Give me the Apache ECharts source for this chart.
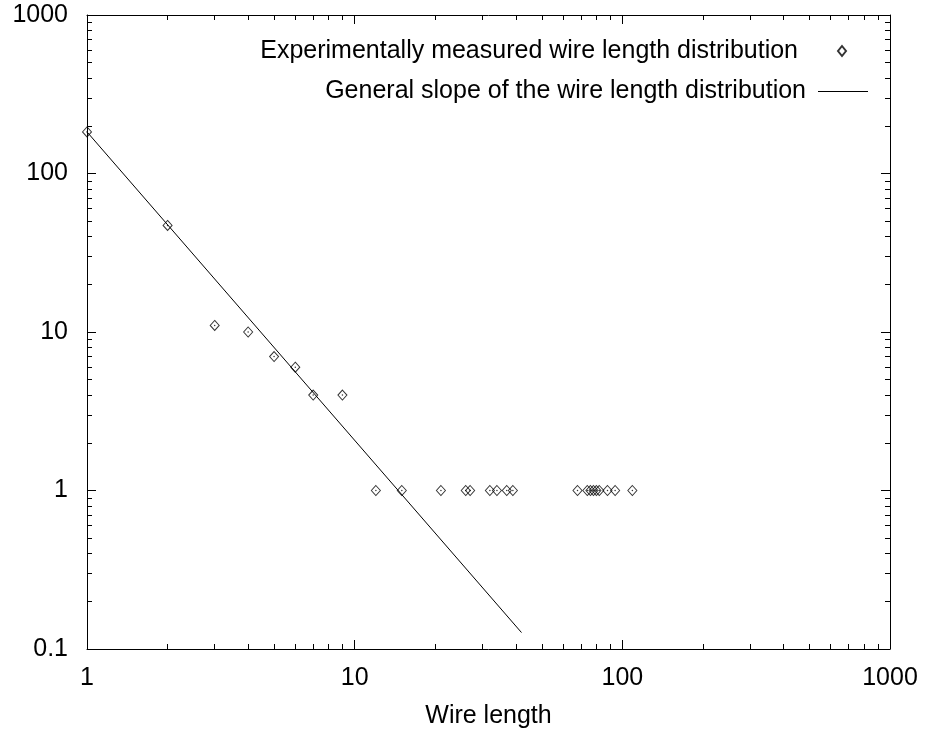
<!DOCTYPE html>
<html>
<head>
<meta charset="utf-8">
<script src="https://cdn.jsdelivr.net/npm/echarts@6/dist/echarts.min.js"></script>
<style>html,body{margin:0;padding:0;background:#fff}#c{width:935px;height:738px}</style>
</head>
<body>
<div id="c"></div>
<script>
// ---- data ----
const wirelength = [1, 2, 3, 4, 5, 6, 7, 9, 12, 15, 21, 26, 27, 32, 34, 37, 39, 68, 74, 76, 78, 80, 82, 88, 94, 109];
const counts     = [183, 47, 11, 10, 7, 6, 4, 4, 1, 1, 1, 1, 1, 1, 1, 1, 1, 1, 1, 1, 1, 1, 1, 1, 1, 1];
const slopeX = [1, 42];
const slopeY = [183, 0.127];
const xMajorTicks = [1, 10, 100, 1000];
const yMajorTicks = [0.1, 1, 10, 100, 1000];
const xMinorTicks = [2,3,4,5,6,7,8,9,20,30,40,50,60,70,80,90,200,300,400,500,600,700,800,900];
const yMinorTicks = [0.2,0.3,0.4,0.5,0.6,0.7,0.8,0.9,2,3,4,5,6,7,8,9,20,30,40,50,60,70,80,90,200,300,400,500,600,700,800,900];
const seriesNames = ['Experimentally measured wire length distribution', 'General slope of the wire length distribution'];
const xName = 'Wire length';

const FONT = 'Liberation Sans';
const FS = 25;
const pts = wirelength.map((x, i) => [x, counts[i]]);
const linePts = slopeX.map((x, i) => [x, slopeY[i]]);

function mkAxis(dim, position, ticks, len, showLine, showLabel) {
  const isX = dim === 'x';
  const a = {
    type: 'log', logBase: 10,
    min: isX ? 1 : 0.1, max: 1000,
    position: position,
    axisLine: { show: showLine, onZero: false, lineStyle: { color: '#000', width: 1 } },
    axisTick: { show: true, inside: true, length: len, customValues: ticks, lineStyle: { color: '#000', width: 1 } },
    axisLabel: { show: showLabel, customValues: ticks, color: '#000', fontFamily: FONT, fontSize: FS,
                 margin: isX ? 17 : 19, formatter: v => String(v) },
    splitLine: { show: false }, minorTick: { show: false }
  };
  if (isX && showLabel) {
    a.name = xName; a.nameLocation = 'middle'; a.nameGap = 55;
    a.nameTextStyle = { color: '#000', fontFamily: FONT, fontSize: FS };
  }
  return a;
}

const chart = echarts.init(document.getElementById('c'), null, { renderer: 'canvas' });
chart.setOption({
  animation: false,
  backgroundColor: '#fff',
  grid: { left: 87, right: 45, top: 15, bottom: 89, containLabel: false },
  xAxis: [
    mkAxis('x', 'bottom', xMajorTicks, 9, true, true),
    mkAxis('x', 'bottom', xMinorTicks, 5, false, false),
    mkAxis('x', 'top', xMajorTicks, 9, true, false),
    mkAxis('x', 'top', xMinorTicks, 5, false, false)
  ],
  yAxis: [
    mkAxis('y', 'left', yMajorTicks, 9, true, true),
    mkAxis('y', 'left', yMinorTicks, 5, false, false),
    mkAxis('y', 'right', yMajorTicks, 9, true, false),
    mkAxis('y', 'right', yMinorTicks, 5, false, false)
  ],
  legend: [
    {
      data: [{ name: seriesNames[0], icon: 'diamond' }], orient: 'vertical', align: 'right',
      right: 88, top: 38, padding: 0, itemWidth: 8, itemHeight: 10,
      selectedMode: false,
      textStyle: { color: '#000', fontFamily: FONT, fontSize: FS, lineHeight: 26, padding: [0, 35, 0, 0] }
    },
    {
      data: [{ name: seriesNames[1], icon: 'rect' }], orient: 'vertical', align: 'right',
      right: 67, top: 78.5, padding: 0, itemWidth: 50, itemHeight: 1,
      selectedMode: false,
      textStyle: { color: '#000', fontFamily: FONT, fontSize: FS, lineHeight: 26, padding: [0, 7, 0, 0] }
    }
  ],
  series: [
    {
      name: seriesNames[0], type: 'scatter', xAxisIndex: 0, yAxisIndex: 0,
      symbol: 'diamond', symbolSize: [9, 10], data: pts, z: 3,
      itemStyle: { color: 'rgba(255,255,255,0)', borderColor: '#000', borderWidth: 1 },
      emphasis: { disabled: true }
    },
    {
      name: 'centers', type: 'scatter', xAxisIndex: 0, yAxisIndex: 0,
      symbol: 'circle', symbolSize: 1.5, data: pts, z: 4, silent: true,
      itemStyle: { color: '#000' }
    },
    {
      name: seriesNames[1], type: 'line', xAxisIndex: 0, yAxisIndex: 0,
      data: linePts, symbol: 'none', showSymbol: false,
      lineStyle: { color: '#000', width: 1 }, itemStyle: { color: '#000' },
      emphasis: { disabled: true }
    }
  ]
});
</script>
</body>
</html>
